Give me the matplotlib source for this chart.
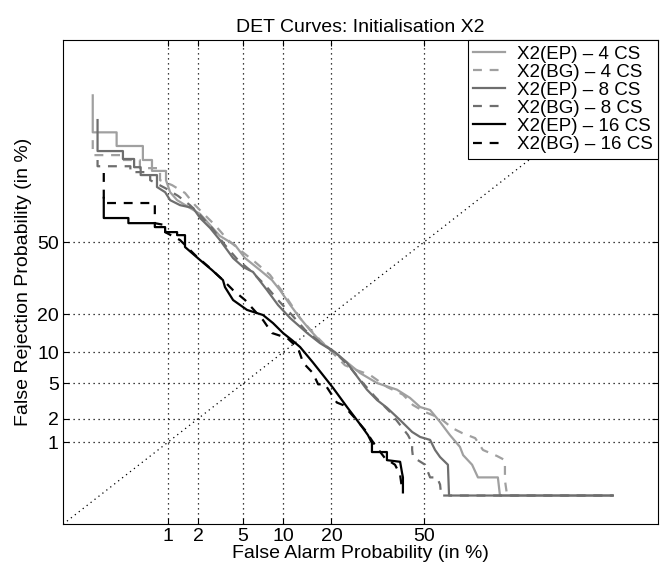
import matplotlib
matplotlib.use('Agg')

import matplotlib.pyplot as plt
import numpy as np
from statistics import NormalDist

plt.rcParams['font.family'] = ['Liberation Sans', 'DejaVu Sans']

# DET-кривые: (ложная тревога %, ложный пропуск %)
ep4_fa = [0.13, 0.13, 0.26, 0.26, 0.53, 0.53, 0.67, 0.67, 0.95, 0.95, 1.05, 1.24, 1.67, 2.09, 2.59, 3.18,
          4.29, 5.19, 6.80, 8.35, 9.52, 11.2, 13.0, 15.0, 17.7, 20.9, 24.2, 28.0, 33.5, 40.3, 44.9, 48.6,
          52.2, 55.8, 59.3, 62.8, 63.9, 66.9, 68.8, 74.9, 75.5, 95.7]
ep4_miss = [95.6, 89.9, 89.9, 86.8, 86.8, 83.0, 83.0, 79.6, 79.6, 76.4, 71.9, 68.7, 65.4, 62.8, 57.8, 52.8,
            48.6, 42.6, 37.2, 32.9, 28.8, 23.2, 18.8, 15.3, 12.0, 10.0, 8.1, 6.4, 5.05, 4.3, 3.5, 2.75,
            2.54, 1.82, 1.24, 0.86, 0.66, 0.48, 0.31, 0.31, 0.16, 0.16]

bg4_fa = [0.13, 0.13, 0.29, 0.29, 0.49, 0.49, 0.82, 0.82, 1.10, 1.49, 1.87, 2.32, 2.87, 3.74, 4.72, 6.23,
          8.08, 10.3, 13.0, 16.1, 19.6, 23.6, 27.1, 31.2, 36.8, 42.4, 46.0, 50.4, 55.8, 60.1, 63.5, 67.9,
          70.4, 74.7, 76.9, 76.9, 77.5, 95.7]
bg4_miss = [88.2, 84.4, 84.4, 83.0, 83.0, 80.5, 80.5, 76.4, 74.6, 71.6, 66.6, 62.3, 57.8, 50.9, 46.3, 40.8,
            35.1, 26.9, 18.8, 14.0, 10.5, 7.6, 6.8, 6.1, 4.6, 3.8, 2.9, 2.4, 2.03, 1.53, 1.32, 1.13,
            0.78, 0.64, 0.56, 0.28, 0.16, 0.16]

ep8_fa = [0.15, 0.15, 0.31, 0.31, 0.42, 0.42, 0.50, 0.50, 0.76, 0.76, 0.93, 1.05, 1.33, 1.79, 2.09, 2.59,
          3.18, 4.13, 5.0, 6.0, 7.68, 9.22, 11.2, 14.4, 17.2, 20.9, 24.2, 28.0, 30.2, 33.5, 36.8, 41.4,
          45.7, 48.6, 52.2, 54.0, 55.8, 58.6, 59.0, 95.7]
ep8_miss = [92.2, 85.5, 85.5, 83.3, 83.3, 80.8, 80.8, 78.2, 78.2, 73.9, 71.9, 68.7, 66.6, 65.4, 61.0, 56.5,
            50.9, 42.6, 38.6, 36.4, 28.8, 23.2, 18.8, 14.5, 12.0, 10.0, 8.0, 5.4, 4.3, 3.3, 2.7, 1.92,
            1.36, 1.17, 1.07, 0.78, 0.62, 0.48, 0.16, 0.16]

bg8_fa = [0.15, 0.15, 0.38, 0.38, 0.64, 0.64, 0.93, 1.27, 1.67, 2.09, 2.70, 3.52, 4.54, 5.68, 7.42, 9.22,
          11.5, 14.0, 17.2, 20.9, 25.0, 28.6, 32.8, 37.9, 41.4, 44.2, 45.7, 45.7, 46.0, 50.4, 52.2, 54.7,
          55.8, 56.2, 95.7]
bg8_miss = [83.0, 81.1, 81.1, 79.2, 79.2, 76.4, 73.5, 70.4, 66.6, 62.3, 56.5, 48.6, 41.7, 37.2, 30.9, 25.0,
            19.8, 15.3, 12.2, 10.0, 7.3, 5.2, 3.6, 2.4, 1.67, 1.24, 0.97, 0.78, 0.62, 0.48, 0.31, 0.31,
            0.24, 0.16, 0.16]

ep16_fa = [0.18, 0.18, 0.36, 0.36, 0.72, 0.72, 0.93, 0.93, 1.24, 1.24, 1.49, 1.49, 2.09, 2.70, 3.38, 3.52,
           4.13, 5.38, 7.17, 8.49, 10.0, 11.5, 13.0, 15.6, 17.9, 20.4, 24.2, 27.1, 28.9, 30.5, 31.8, 31.8,
           36.8, 36.8, 41.4, 42.1, 42.4, 42.4]
ep16_miss = [69.6, 61.0, 61.0, 58.7, 58.7, 56.9, 56.9, 54.6, 54.6, 53.2, 53.2, 47.7, 41.7, 37.2, 32.9, 30.0,
             25.0, 21.5, 19.8, 17.3, 14.5, 12.7, 11.1, 8.1, 6.1, 4.5, 2.75, 1.92, 1.53, 1.24, 0.97, 0.73,
             0.73, 0.56, 0.53, 0.36, 0.31, 0.18]

bg16_fa = [0.18, 0.18, 0.72, 0.72, 0.93, 0.93, 1.33, 1.87, 2.59, 3.52, 4.13, 5.19, 7.17, 8.35, 10.7, 12.6,
           13.6, 15.6, 16.8, 18.4, 21.4, 23.1, 26.5, 29.6, 32.8, 36.1, 39.6, 41.4, 42.1]
bg16_miss = [78.9, 67.5, 67.5, 58.7, 57.8, 54.6, 50.9, 44.0, 38.1, 32.1, 28.8, 25.0, 18.2, 14.5, 13.2, 10.9,
             8.0, 6.4, 4.9, 4.9, 3.1, 2.9, 2.03, 1.44, 0.91, 0.60, 0.48, 0.34, 0.20]

ticks = [1, 2, 5, 10, 20, 50]

nd = NormalDist()
_inv = np.vectorize(nd.inv_cdf, otypes=[float])
_cdf = np.vectorize(nd.cdf, otypes=[float])


def probit(p):
    p = np.clip(np.asarray(p, dtype=float) / 100.0, 1e-7, 1 - 1e-7)
    return _inv(p)


def unprobit(z):
    return _cdf(np.asarray(z, dtype=float)) * 100.0


fig = plt.figure(figsize=(6.69, 5.75), dpi=100)
ax = fig.add_axes([0.0942, 0.0887, 0.8894, 0.8417])
ax.set_xscale('function', functions=(probit, unprobit))
ax.set_yscale('function', functions=(probit, unprobit))

light, mid = '#a0a0a0', '#6e6e6e'
curves = [
    (ep4_fa, ep4_miss, light, '-', 'X2(EP) – 4 CS'),
    (bg4_fa, bg4_miss, light, '--', 'X2(BG) – 4 CS'),
    (ep8_fa, ep8_miss, mid, '-', 'X2(EP) – 8 CS'),
    (bg8_fa, bg8_miss, mid, '--', 'X2(BG) – 8 CS'),
    (ep16_fa, ep16_miss, 'black', '-', 'X2(EP) – 16 CS'),
    (bg16_fa, bg16_miss, 'black', '--', 'X2(BG) – 16 CS'),
]

xlim = (0.0516, 98.33)
ylim = (0.0521, 99.06)

# диагональ EER
ax.plot([0.0516, 98.33], [0.0516, 98.33], color='black', linestyle=(0, (1, 3)), linewidth=0.9)

for fa, miss, col, ls, lab in curves:
    line, = ax.plot(fa, miss, color=col, linewidth=1.6, label=lab, linestyle=ls)
    if ls == '--':
        line.set_dashes((4, 3.5))

ax.set_xlim(*xlim)
ax.set_ylim(*ylim)
ax.set_xticks(ticks)
ax.set_yticks(ticks)
ax.set_xticklabels([str(t) for t in ticks])
ax.set_yticklabels([str(t) for t in ticks])
ax.minorticks_off()
ax.tick_params(direction='in', length=4, width=0.8, top=True, right=True, labelsize=14, pad=3)
ax.grid(True, color='black', linestyle=(0, (1, 3)), linewidth=0.9)

ax.set_title('DET Curves: Initialisation X2', fontsize=14, pad=6)
ax.set_xlabel('False Alarm Probability (in %)', fontsize=14, labelpad=0)
ax.set_ylabel('False Rejection Probability (in %)', fontsize=14, labelpad=4)

leg = ax.legend(loc='upper right', fontsize=13.5, borderaxespad=0, fancybox=False,
                framealpha=1, edgecolor='black', handlelength=1.7, labelspacing=0.05,
                borderpad=0.3, handletextpad=0.6)
leg.get_frame().set_linewidth(0.8)

plt.savefig('out.png', dpi=100)
print("Сохранено как out.png")
